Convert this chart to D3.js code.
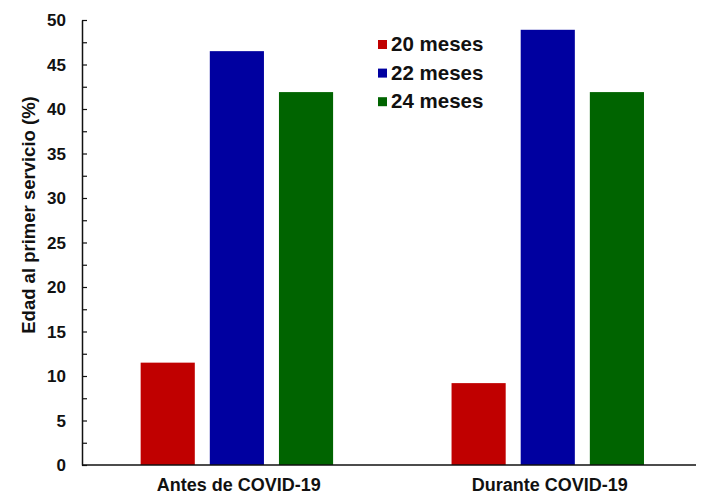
<!DOCTYPE html>
<html>
<head>
<meta charset="utf-8">
<script src="https://cdn.jsdelivr.net/npm/d3@7"></script>
<style>
  html, body { margin: 0; padding: 0; background: #fff; }
  svg { display: block; }
  text { font-family: "Liberation Sans", Arial, Helvetica, sans-serif; font-weight: bold; fill: #111; }
</style>
</head>
<body>
<svg id="chart" width="703" height="495"></svg>
<script>
const categories = ["Antes de COVID-19", "Durante COVID-19"];
const seriesNames = ["20 meses", "22 meses", "24 meses"];
const seriesColors = ["#c00000", "#0000a0", "#006400"];
const values20 = [11.5, 9.2];
const values22 = [46.5, 48.9];
const values24 = [41.9, 41.9];
const yTicks = [0, 5, 10, 15, 20, 25, 30, 35, 40, 45, 50];
const yTitle = "Edad al primer servicio (%)";

const seriesValues = [values20, values22, values24];
const svg = d3.select("#chart");

const mLeft = 82, mRight = 696, mTop = 20, mBottom = 465;

const y = d3.scaleLinear().domain([0, 50]).range([mBottom, mTop]);
const x0 = d3.scaleBand().domain(categories).range([mLeft, mRight])
  .paddingInner(0.381).paddingOuter(0.178).align(0.53);
const x1 = d3.scaleBand().domain(seriesNames).range([0, x0.bandwidth()])
  .paddingInner(0.217).paddingOuter(0);

// bars
const groups = svg.append("g").selectAll("g").data(categories).join("g")
  .attr("transform", d => `translate(${x0(d)},0)`);
groups.selectAll("rect")
  .data((c, ci) => seriesNames.map((s, si) => ({ s, si, v: seriesValues[si][ci] })))
  .join("rect")
  .attr("x", d => x1(d.s))
  .attr("width", x1.bandwidth())
  .attr("y", d => y(d.v))
  .attr("height", d => y(0) - y(d.v))
  .attr("fill", d => seriesColors[d.si]);

// y axis (ticks inward every 2.5)
const minorTicks = d3.range(0, 50.001, 2.5);
const yAxis = svg.append("g").attr("transform", `translate(${mLeft},0)`)
  .call(d3.axisRight(y).tickValues(minorTicks).tickSize(5).tickSizeOuter(0).tickFormat(""));
yAxis.select(".domain").attr("stroke", "#111").attr("stroke-width", 1.5);
yAxis.selectAll(".tick line").attr("stroke", "#111").attr("stroke-width", 1.2);

svg.append("g").selectAll("text").data(yTicks).join("text")
  .attr("x", 66).attr("y", d => y(d)).attr("dy", "0.36em")
  .attr("text-anchor", "end").attr("font-size", 17).text(d => d);

// x axis line
const xAxis = svg.append("g").attr("transform", `translate(0,${mBottom})`)
  .call(d3.axisBottom(x0).tickSize(0).tickSizeOuter(0).tickFormat(""));
xAxis.select(".domain").attr("stroke", "#111").attr("stroke-width", 1.5)
  .attr("d", `M${mLeft},0H${mRight}`);

svg.append("g").selectAll("text").data(categories).join("text")
  .attr("x", d => x0(d) + x0.bandwidth() / 2 + 2).attr("y", 491)
  .attr("text-anchor", "middle").attr("font-size", 18).text(d => d);

// y title
svg.append("text")
  .attr("transform", "translate(35,215) rotate(-90)")
  .attr("text-anchor", "middle").attr("font-size", 18.5).text(yTitle);

// legend
const leg = svg.append("g").selectAll("g").data(seriesNames).join("g")
  .attr("transform", (d, i) => `translate(378,${40 + i * 28.6})`);
leg.append("rect").attr("width", 9).attr("height", 9)
  .attr("fill", (d, i) => seriesColors[i]);
leg.append("text").attr("x", 13).attr("y", 11).attr("font-size", 20.5).text(d => d);
</script>
</body>
</html>
